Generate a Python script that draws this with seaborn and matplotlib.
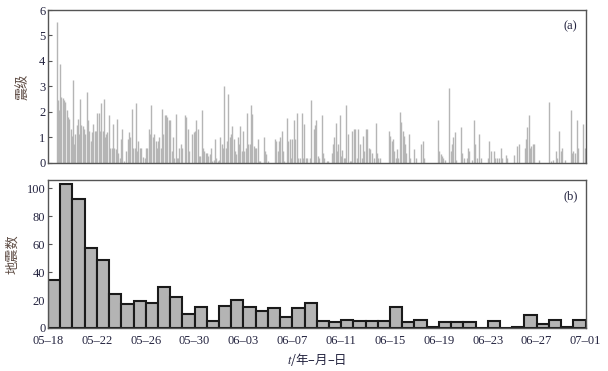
import numpy as np
import pandas as pd
import matplotlib
matplotlib.use('Agg')
import matplotlib.pyplot as plt
import seaborn as sns

# 震级 (上图): 距 05-18 00:00 的天数, 震级
event_day = [
    0.71, 0.82, 0.90, 1.01, 1.09, 1.20, 1.31, 1.42, 1.53, 1.64, 1.75, 1.86, 1.97, 2.05, 2.13, 2.24,
    2.35, 2.46, 2.54, 2.65, 2.73, 2.84, 2.95, 3.06, 3.17, 3.28, 3.39, 3.50, 3.61, 3.72, 3.82, 3.93,
    4.04, 4.15, 4.26, 4.37, 4.48, 4.56, 4.64, 4.75, 4.86, 5.00, 5.11, 5.22, 5.33, 5.44, 5.55, 5.66,
    5.76, 5.87, 5.98, 6.09, 6.20, 6.42, 6.53, 6.64, 6.75, 6.86, 6.97, 7.08, 7.19, 7.29, 7.40, 7.54,
    7.65, 7.76, 7.92, 8.03, 8.14, 8.25, 8.36, 8.47, 8.58, 8.69, 8.80, 8.91, 9.02, 9.12, 9.23, 9.34,
    9.45, 9.56, 9.67, 9.78, 9.89, 10.00, 10.11, 10.22, 10.33, 10.44, 10.55, 10.65, 10.76, 10.87, 10.98,
    11.20, 11.31, 11.42, 11.53, 11.80, 11.91, 12.02, 12.13, 12.24, 12.35, 12.46, 12.57, 12.68, 12.79,
    12.90, 13.01, 13.11, 13.22, 13.33, 13.44, 13.55, 13.66, 13.77, 13.88, 13.99, 14.10, 14.21, 14.32,
    14.43, 14.54, 14.65, 14.75, 14.86, 14.97, 15.08, 15.19, 15.30, 15.41, 15.52, 15.63, 15.74, 15.85,
    15.96, 16.07, 16.17, 16.28, 16.39, 16.50, 16.61, 16.72, 16.83, 16.94, 17.05, 17.16, 17.27, 17.38,
    17.65, 17.76, 17.87, 18.03, 18.58, 18.69, 18.80, 18.91, 19.02, 19.13, 19.23, 19.34, 19.56, 19.67,
    19.78, 19.89, 20.00, 20.11, 20.22, 20.38, 20.49, 20.60, 20.76, 20.87, 20.98, 21.09, 21.20, 21.42,
    21.53, 21.75, 21.86, 21.97, 22.08, 22.19, 22.41, 22.51, 22.62, 22.84, 22.95, 23.22, 23.33, 23.44,
    23.55, 23.66, 23.77, 23.88, 23.99, 24.10, 24.21, 24.32, 24.43, 24.54, 24.70, 24.81, 24.92, 25.03,
    25.14, 25.30, 25.41, 25.52, 25.68, 25.79, 25.90, 26.01, 26.12, 26.28, 26.39, 26.50, 26.67, 26.83,
    26.94, 27.05, 27.16, 27.92, 28.03, 28.14, 28.25, 28.36, 28.47, 28.58, 28.69, 28.80, 28.91, 29.02,
    29.13, 29.24, 29.34, 29.51, 29.62, 30.00, 30.11, 30.55, 30.66, 30.77, 31.91, 32.02, 32.13, 32.24,
    32.35, 32.51, 32.81, 32.95, 33.06, 33.17, 33.28, 33.39, 33.82, 33.93, 34.04, 34.26, 34.37, 34.48,
    34.70, 34.86, 34.97, 35.08, 35.30, 35.41, 36.01, 36.12, 36.23, 36.50, 36.61, 36.72, 36.94, 37.05,
    37.16, 37.49, 37.59, 38.14, 38.41, 38.52, 39.02, 39.12, 39.23, 39.34, 39.45, 39.56, 39.67, 39.78,
    40.22, 40.98, 41.15, 41.36, 41.58, 41.69, 41.86, 41.97, 42.08, 42.35, 42.79, 42.89, 43.00, 43.11,
    43.28, 43.39, 43.82, 43.93,
]
event_mag = [
    5.53, 2.47, 2.07, 3.87, 2.60, 2.53, 2.47, 2.40, 2.07, 1.80, 1.73, 1.33, 1.07, 3.24, 0.73, 1.13,
    1.47, 1.73, 1.13, 2.49, 1.47, 1.43, 1.33, 1.13, 2.80, 1.67, 1.27, 0.87, 1.20, 1.53, 1.27, 1.27,
    1.96, 1.96, 1.27, 2.36, 1.27, 2.49, 1.00, 1.13, 1.20, 1.87, 0.60, 0.60, 1.53, 0.60, 0.53, 1.73,
    0.40, 0.20, 0.93, 1.33, 0.07, 0.47, 0.93, 1.20, 1.00, 2.13, 0.60, 0.60, 2.36, 0.47, 0.87, 0.60,
    0.60, 0.24, 0.20, 0.60, 0.60, 1.33, 1.13, 2.27, 1.00, 1.13, 0.87, 0.60, 0.87, 1.00, 0.60, 2.13,
    1.13, 1.87, 1.87, 1.80, 1.67, 1.67, 0.47, 1.00, 0.20, 1.93, 0.20, 0.20, 0.60, 0.73, 0.60,
    1.87, 1.80, 1.33, 0.47, 1.13, 1.20, 1.27, 1.67, 1.33, 0.27, 0.27, 2.07, 0.60, 0.47,
    0.40, 0.40, 0.27, 0.33, 0.60, 0.07, 0.13, 0.93, 0.20, 0.07, 0.13, 1.03, 0.73, 0.60,
    3.00, 0.60, 0.87, 2.71, 1.00, 1.13, 1.43, 0.93, 0.47, 0.36, 1.03, 0.73, 1.43, 0.47,
    1.24, 0.47, 0.60, 1.96, 0.73, 0.73, 2.27, 1.93, 0.67, 0.60, 0.60, 0.93, 0.07, 0.07,
    1.03, 0.47, 0.33, 0.07, 0.93, 0.87, 0.47, 0.84, 1.00, 1.24, 0.47, 0.07, 1.77, 0.87,
    0.93, 0.20, 0.93, 1.67, 0.93, 1.96, 0.20, 0.20, 1.96, 0.20, 1.53, 0.20, 0.20, 0.20,
    2.47, 1.33, 1.47, 1.67, 0.27, 0.20, 1.87, 0.40, 0.20, 0.09, 0.07, 0.40, 0.73, 1.00,
    1.56, 0.47, 0.73, 1.87, 0.27, 0.49, 0.20, 0.20, 2.27, 1.13, 0.07, 0.07, 1.27, 1.33,
    1.33, 0.20, 1.33, 0.73, 0.20, 1.07, 0.47, 1.33, 1.33, 0.60, 0.53, 0.40, 0.20, 1.56,
    0.40, 0.20, 0.20, 1.24, 1.07, 0.84, 0.93, 0.47, 0.20, 0.53, 0.20, 2.00, 1.60, 1.24,
    1.07, 0.73, 0.40, 1.13, 0.20, 0.53, 0.20, 0.73, 0.84, 0.20, 1.67, 0.47, 0.33, 0.27,
    0.20, 0.13, 2.93, 0.47, 0.73, 1.00, 1.20, 0.13, 1.40, 0.40, 0.20, 0.20, 0.57, 0.47,
    0.13, 1.67, 0.73, 0.20, 1.13, 0.20, 0.20, 0.84, 0.47, 0.47, 0.20, 0.20, 0.20, 0.60,
    0.20, 0.31, 0.20, 0.31, 0.67, 0.73, 0.60, 0.93, 1.40, 1.87, 0.60, 0.67, 0.73, 0.73,
    0.13, 2.40, 0.07, 0.13, 0.47, 0.20, 1.24, 0.47, 0.60, 0.13, 2.07, 0.40, 0.47, 0.40,
    1.67, 0.60, 1.53, 0.60,
]

# 每日地震数 (下图), 05-18 至 06-30
daily_count = [34, 103, 92, 57, 49, 24, 17, 19, 18, 29, 22, 10, 15, 5, 16, 20, 15, 12, 14, 8,
               14, 18, 5, 4, 6, 5, 5, 5, 15, 4, 6, 1, 4, 4, 4, 0, 5, 0, 1, 9, 3, 6, 1, 6]
date_labels = ['05–18', '05–22', '05–26', '05–30', '06–03', '06–07',
               '06–11', '06–15', '06–19', '06–23', '06–27', '07–01']

sns.set_style('ticks')
plt.rcParams['font.family'] = ['Liberation Serif', 'Noto Sans CJK SC']
plt.rcParams['mathtext.fontset'] = 'stix'

tick_c = '#23233f'
lab_c = '#5e4c44'
spine_c = '#555555'
cjk = ['Noto Sans CJK SC']

fig = plt.figure(figsize=(6.08, 3.71), dpi=100)
ax1 = fig.add_axes([0.079, 0.561, 0.884, 0.412])
ax2 = fig.add_axes([0.079, 0.116, 0.884, 0.399])

# (a) 震级
ax1.vlines(event_day, 0, event_mag, color='#b5b5b5', linewidth=1.0)
ax1.set_xlim(0, len(daily_count))
ax1.set_ylim(0, 6)
ax1.set_yticks(range(0, 7))
ax1.set_xticks([])
ax1.set_ylabel('震级', family=cjk, fontsize=9.5, color=lab_c, labelpad=6)
ax1.text(0.985, 0.93, '(a)', transform=ax1.transAxes, ha='right', va='top',
         fontsize=9, color=tick_c)

# (b) 地震数
ndays = len(daily_count)
df = pd.DataFrame({'day': np.arange(ndays) + 0.5, 'count': daily_count})
sns.histplot(data=df, x='day', weights='count', bins=ndays, binrange=(0, ndays),
             color='#b4b4b4', edgecolor='#1a1a1a', linewidth=1.5, alpha=1, ax=ax2)
ax2.set_xlim(0, ndays)
ax2.set_ylim(0, 106)
ax2.set_yticks(range(0, 101, 20))
ax2.set_xticks(np.arange(0, ndays + 1, 4))
ax2.set_xticklabels(date_labels)
ax2.set_ylabel('地震数', family=cjk, fontsize=9.5, color=lab_c, labelpad=5)
ax2.set_xlabel('$t$/年–月–日', family=cjk, fontsize=9, color=tick_c, labelpad=3)
ax2.text(0.985, 0.93, '(b)', transform=ax2.transAxes, ha='right', va='top',
         fontsize=9, color=tick_c)

for ax in (ax1, ax2):
    ax.tick_params(direction='in', length=3, width=0.8, labelsize=9,
                   colors=spine_c, labelcolor=tick_c, pad=2)
    for s in ax.spines.values():
        s.set_visible(True)
        s.set_color(spine_c)
        s.set_linewidth(1.0)
ax2.tick_params(axis='x', pad=5)

fig.savefig('out.png', dpi=100)
